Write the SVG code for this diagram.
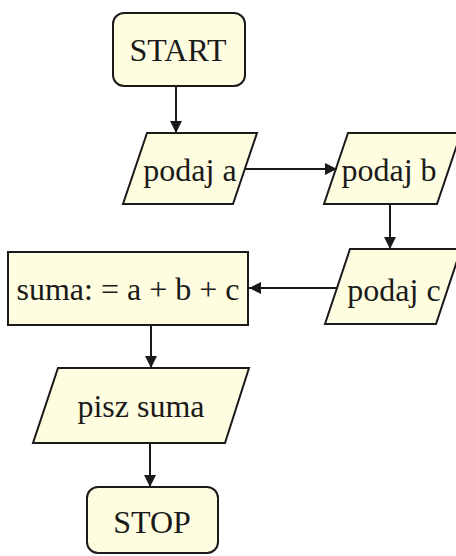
<svg xmlns="http://www.w3.org/2000/svg" width="456" height="556" viewBox="0 0 456 556">
<style>
.s{fill:#FFFDE0;stroke:#1a1a1a;stroke-width:2}
.t{font-family:"Liberation Serif","Times New Roman",serif;font-size:32px;fill:#1a1a1a;text-anchor:middle}
.c{stroke:#1a1a1a;stroke-width:2;fill:none;marker-end:url(#a)}
</style>
<defs>
<marker id="a" markerWidth="12" markerHeight="12" refX="12" refY="6" orient="auto" markerUnits="userSpaceOnUse">
<path d="M0,0 L12,6 L0,12 Z" fill="#1a1a1a"/>
</marker>
</defs>
<rect width="456" height="556" fill="#fff"/>
<g id="start"><rect class="s" x="113" y="13" width="132" height="73" rx="11"/><text class="t" x="178" y="61">START</text></g>
<g id="podaj_a"><polygon class="s" points="147,133 257,133 233,204 123,204"/><text class="t" x="190" y="181">podaj a</text></g>
<g id="podaj_b"><polygon class="s" points="348,133 461,133 437,204 324,204"/><text class="t" x="389" y="181">podaj b</text></g>
<g id="podaj_c"><polygon class="s" points="350,249 461,249 436,324 325,324"/><text class="t" x="394" y="301">podaj c</text></g>
<g id="suma"><rect class="s" x="8" y="252" width="240" height="73"/><text class="t" x="128" y="300">suma: = a + b + c</text></g>
<g id="pisz"><polygon class="s" points="58,368 249,368 225,443 33,443"/><text class="t" x="141" y="417">pisz suma</text></g>
<g id="stop"><rect class="s" x="87" y="487" width="131" height="66" rx="11"/><text class="t" x="152" y="533">STOP</text></g>
<g id="connectors">
<line class="c" x1="176" y1="86" x2="176" y2="133"/>
<line class="c" x1="245" y1="169" x2="337" y2="169"/>
<line class="c" x1="390" y1="204" x2="390" y2="249"/>
<line class="c" x1="338" y1="288" x2="249" y2="288"/>
<line class="c" x1="151" y1="325" x2="151" y2="368"/>
<line class="c" x1="150" y1="443" x2="150" y2="487"/>
</g>
</svg>
